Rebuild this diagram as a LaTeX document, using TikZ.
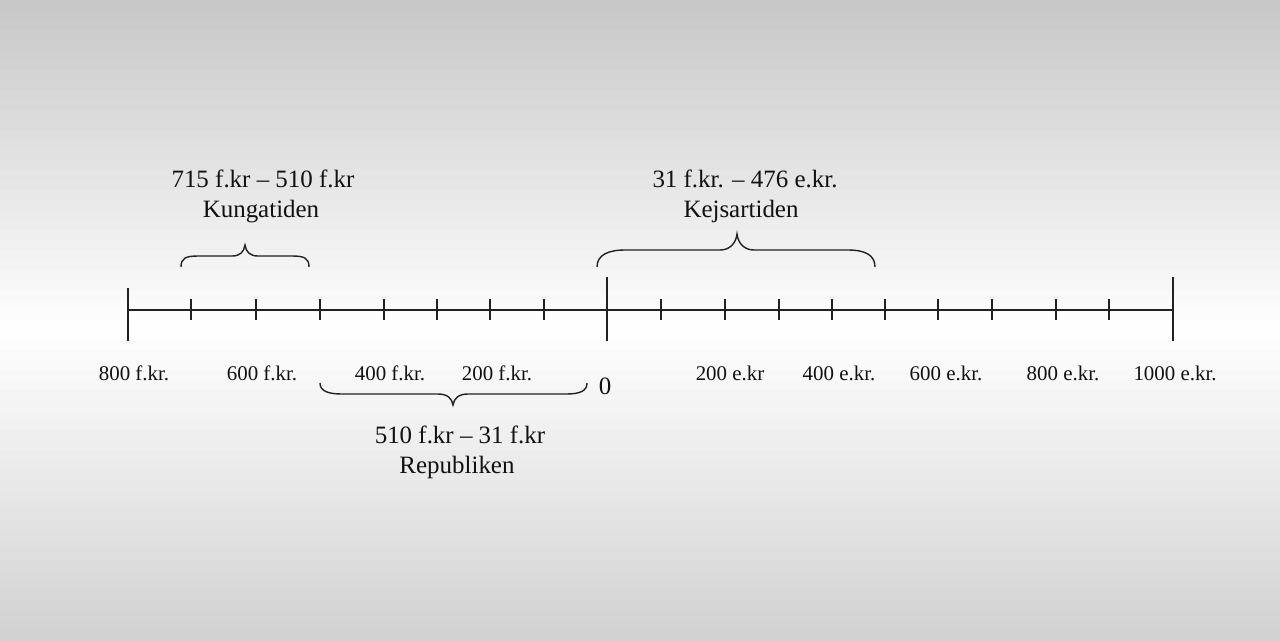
\documentclass[tikz,border=0pt]{standalone}
\usepackage{fontspec}
\setmainfont{Liberation Serif}
\usepackage{tikz}
\usetikzlibrary{positioning}
\definecolor{inkgray}{RGB}{34,34,34}
\definecolor{textblack}{RGB}{17,17,17}

\begin{document}
\begin{tikzpicture}[x=0.02cm, y=-0.02cm, line cap=butt]
    \tikzset{
        axisline/.style={draw=inkgray, line width=0.85pt},
        tickmark/.style={draw=inkgray, line width=1.1pt},
        periodbrace/.style={draw=inkgray, line width=0.8pt},
        yearlabel/.style={textblack, anchor=base, inner sep=0pt, font=\fontsize{11.9}{14}\selectfont},
        periodlabel/.style={textblack, anchor=base, inner sep=0pt, font=\fontsize{14.2}{17}\selectfont}
    }
    % Background
    \foreach \i in {0,...,63} {
        \pgfmathsetmacro\ymid{\i*10+5}
        \pgfmathsetmacro\shadepct{\ymid<330 ? 22*(1-\ymid/330) : 18*(\ymid-330)/310}
        \fill[black!\shadepct] (0,\i*10) rectangle (1280,\i*10+10.6);
    }
    \useasboundingbox (0,0) rectangle (1280,640);

    % Time axis
    \draw[axisline] (128,310) -- (1173,310);

    % Small ticks
    \foreach \tx in {191,256,320,384,437,490,544,661,725,779,832,885,938,992,1056,1109}
        \draw[tickmark] (\tx,299) -- (\tx,320);

    % Tall ticks
    \draw[tickmark] (128,288) -- (128,341);
    \draw[tickmark] (607,277) -- (607,341);
    \draw[tickmark] (1173,277) -- (1173,341);

    % Year labels
    \node[yearlabel] (bc800) at (134,380) {800 f.kr.};
    \node[yearlabel] (bc600) at (262,380) {600 f.kr.};
    \node[yearlabel] (bc400) at (390,380) {400 f.kr.};
    \node[yearlabel] (bc200) at (497,380) {200 f.kr.};
    \node[yearlabel] (zero) at (605,394) {\fontsize{14.2}{17}\selectfont 0};
    \node[yearlabel] (ad200) at (730,380) {200 e.kr};
    \node[yearlabel] (ad400) at (839,380) {400 e.kr.};
    \node[yearlabel] (ad600) at (946,380) {600 e.kr.};
    \node[yearlabel] (ad800) at (1063,380) {800 e.kr.};
    \node[yearlabel] (ad1000) at (1175,380) {1000 e.kr.};

    % Kungatiden
    \draw[periodbrace] (181,267) .. controls (181,258) and (186,256) .. (198,256) -- (232,256)
        .. controls (240,256) and (244,252) .. (245,245)
        .. controls (246,252) and (250,256) .. (258,256) -- (292,256)
        .. controls (304,256) and (309,258) .. (309,267);
    \node[periodlabel] (kungdate) at (263,187) {715 f.kr – 510 f.kr};
    \node[periodlabel] (kung) at (261,217) {Kungatiden};

    % Kejsartiden
    \draw[periodbrace] (597,267) .. controls (597,255) and (608,250) .. (625,250) -- (720,250)
        .. controls (730,250) and (736,243) .. (737,234)
        .. controls (738,243) and (744,250) .. (754,250) -- (848,250)
        .. controls (865,250) and (875,255) .. (875,267);
    \node[periodlabel] (kejsdate) at (745,187) {31 f.kr. – 476 e.kr.};
    \node[periodlabel] (kejs) at (741,217) {Kejsartiden};

    % Republiken
    \draw[periodbrace] (320,383) .. controls (320,391) and (328,394) .. (342,394) -- (438,394)
        .. controls (447,394) and (452,398) .. (453,405)
        .. controls (454,398) and (459,394) .. (468,394) -- (566,394)
        .. controls (580,394) and (587,391) .. (587,383);
    \node[periodlabel] (repdate) at (460,443) {510 f.kr – 31 f.kr};
    \node[periodlabel] (rep) at (457,473) {Republiken};
\end{tikzpicture}
\end{document}
